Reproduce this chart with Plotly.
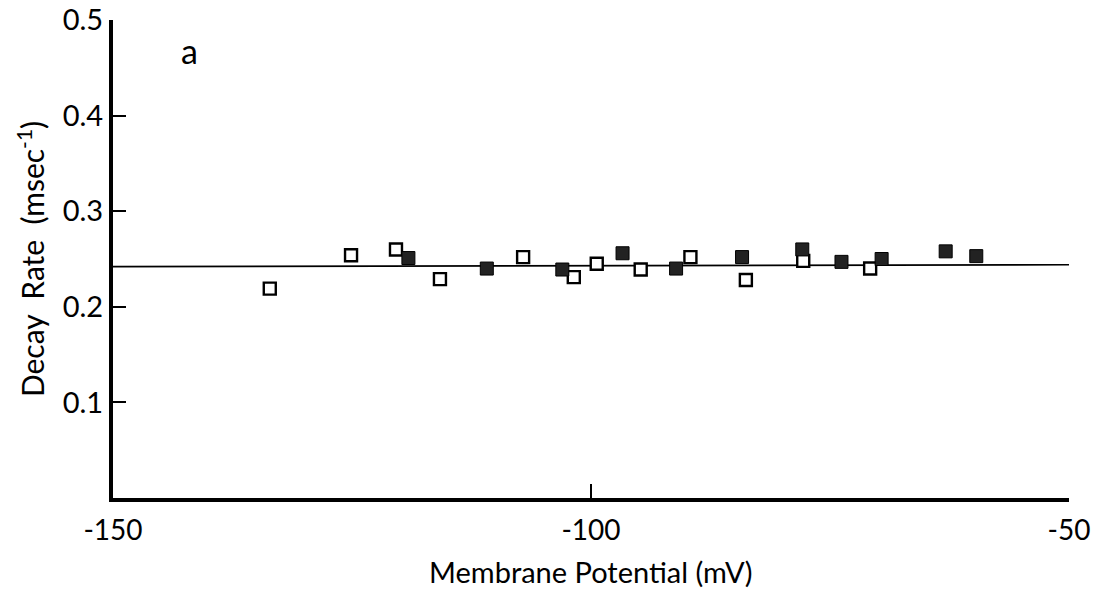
import plotly.graph_objects as go

open_x = [-133.6, -125.1, -120.4, -115.8, -107.1, -101.8, -99.4, -94.8, -89.6, -83.8, -77.8, -70.8]
open_y = [0.219, 0.254, 0.260, 0.229, 0.252, 0.231, 0.245, 0.239, 0.252, 0.228, 0.248, 0.240]

filled_x = [-119.1, -110.9, -103.0, -96.7, -91.1, -84.2, -77.9, -73.8, -69.6, -62.9, -59.7]
filled_y = [0.251, 0.240, 0.239, 0.256, 0.240, 0.252, 0.260, 0.247, 0.250, 0.258, 0.253]

fit_x = [-150, -50]
fit_y = [0.242, 0.244]

x_ticks = [-150, -100, -50]
x_ticktext = ["-150", "-100", "-50"]
y_ticks = [0.1, 0.2, 0.3, 0.4, 0.5]
y_ticktext = ["0.1", "0.2", "0.3", "0.4", "0.5"]

FONT = "Lato"

fig = go.Figure()
fig.add_trace(go.Scatter(x=fit_x, y=fit_y, mode="lines",
                         line=dict(color="black", width=1.6), showlegend=False, hoverinfo="skip"))
fig.add_trace(go.Scatter(x=open_x, y=open_y, mode="markers",
                         marker=dict(symbol="square", size=12, color="white",
                                     line=dict(color="black", width=2.4)),
                         showlegend=False))
fig.add_trace(go.Scatter(x=filled_x, y=filled_y, mode="markers",
                         marker=dict(symbol="square", size=13, color="#222222",
                                     line=dict(color="black", width=1)),
                         showlegend=False))

fig.add_annotation(x=-142, y=0.468, text="a", showarrow=False,
                   font=dict(family=FONT, size=34, color="black"))

# x-axis title as a paper annotation so its position can be set exactly
fig.add_annotation(x=0.5, y=-0.154, xref="paper", yref="paper", yanchor="middle",
                   text="Membrane Potential (mV)", showarrow=False,
                   font=dict(family=FONT, size=29, color="black"))

fig.update_xaxes(range=[-150, -50], tickvals=x_ticks, ticktext=x_ticktext,
                 ticks="inside", ticklen=14, tickwidth=1.5, tickcolor="black",
                 showline=True, linewidth=4, linecolor="black", showgrid=False, zeroline=False,
                 ticklabelstandoff=4, automargin=False,
                 tickfont=dict(family=FONT, size=28, color="black"))
fig.update_yaxes(range=[0, 0.5], tickvals=y_ticks, ticktext=y_ticktext,
                 ticks="inside", ticklen=13, tickwidth=1.5, tickcolor="black",
                 showline=True, linewidth=4, linecolor="black", showgrid=False, zeroline=False,
                 automargin=False,
                 tickfont=dict(family=FONT, size=29, color="black"),
                 title=dict(text="Decay  Rate  (msec<sup>-1</sup>)", font=dict(family=FONT, size=30, color="black"), standoff=10))

fig.update_layout(width=1102, height=592, plot_bgcolor="white", paper_bgcolor="white",
                  margin=dict(l=113, r=33, t=20, b=94))

fig.write_html("out.html")
